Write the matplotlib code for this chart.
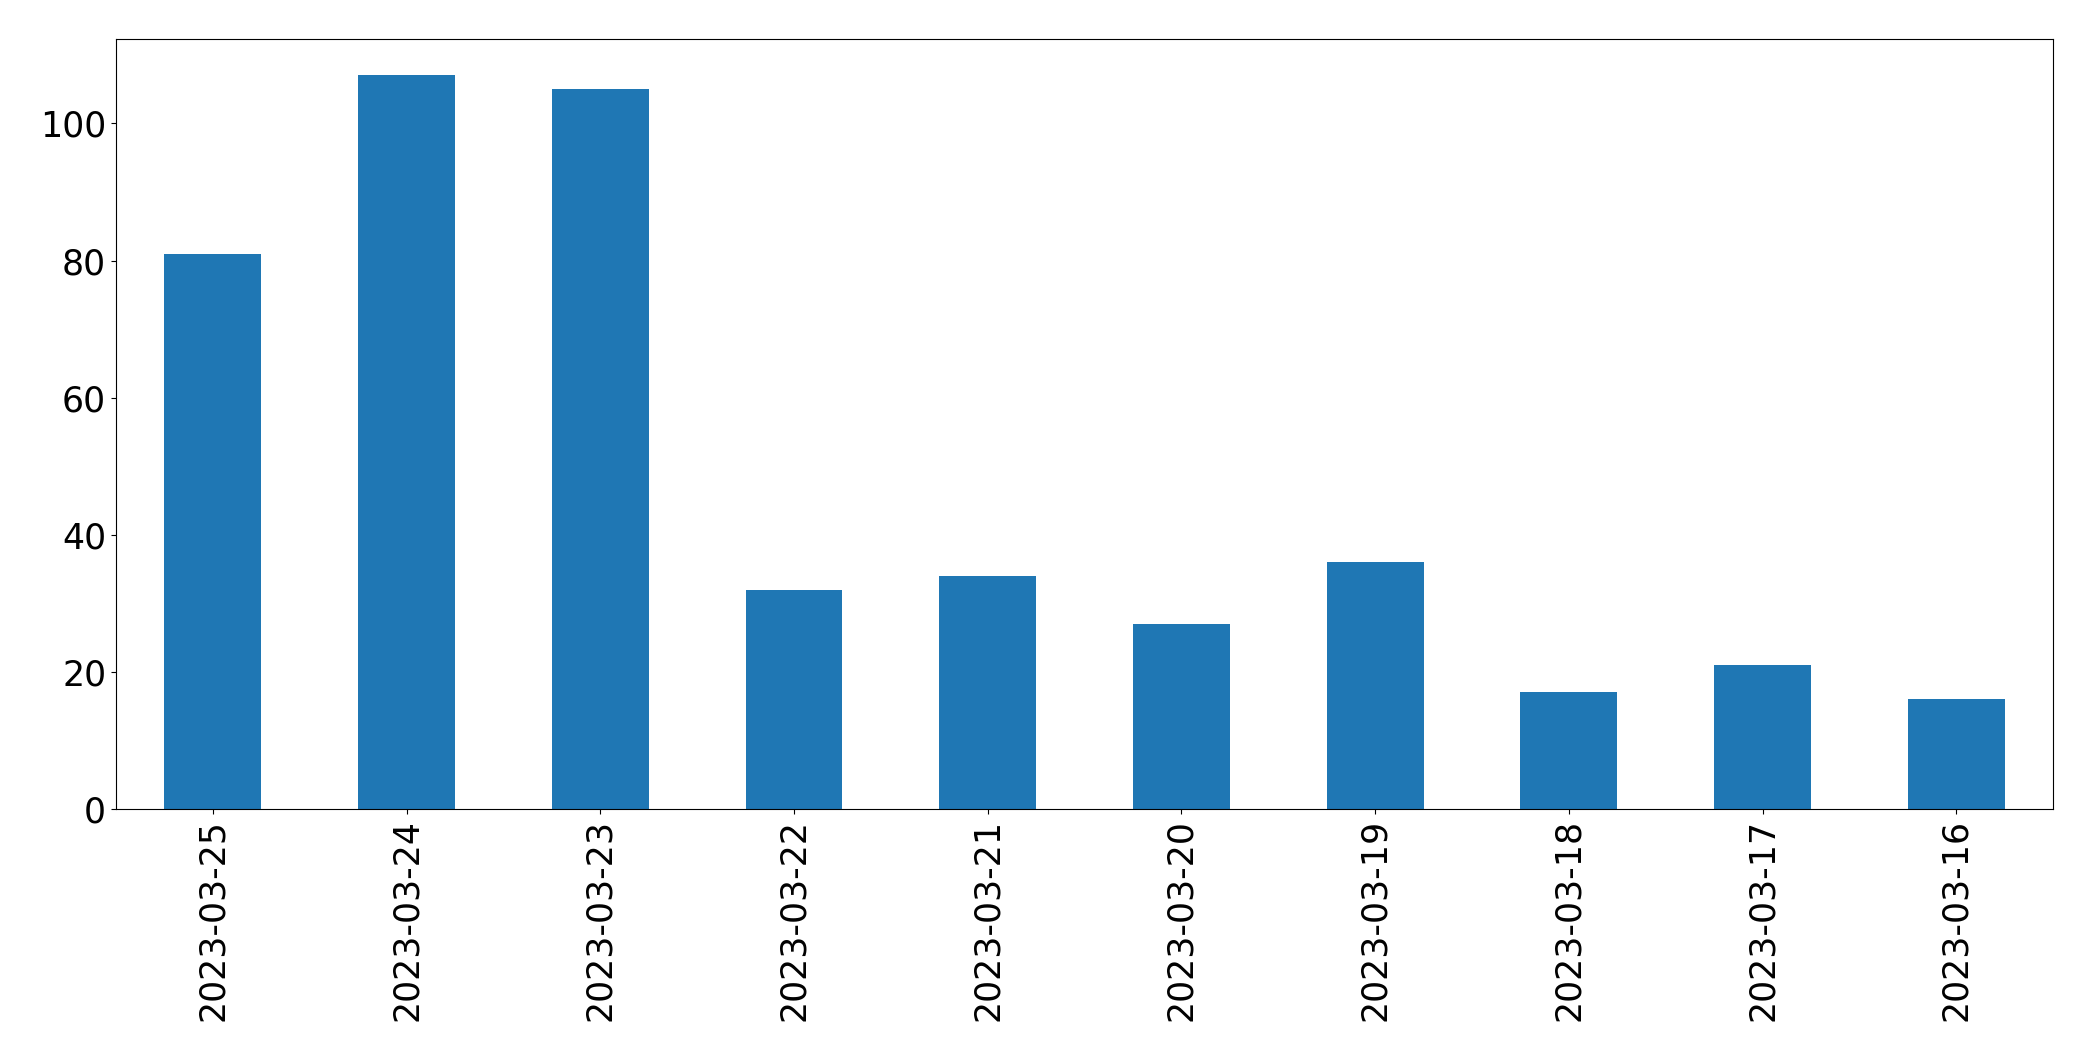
import matplotlib
matplotlib.use("Agg")
import matplotlib.pyplot as plt

dates = ["2023-03-25", "2023-03-24", "2023-03-23", "2023-03-22", "2023-03-21",
         "2023-03-20", "2023-03-19", "2023-03-18", "2023-03-17", "2023-03-16"]
counts = [81, 107, 105, 32, 34, 27, 36, 17, 21, 16]

fig = plt.figure(figsize=(20.93, 10.61), dpi=100)
ax = fig.add_axes([0.0554, 0.2375, 0.981 - 0.0554, 0.9635 - 0.2375])
x = list(range(len(dates)))
ax.bar(x, counts, width=0.5, color="#1f77b4")
ax.set_xlim(-0.5, len(dates) - 0.5)
ax.set_ylim(0, max(counts) * 1.05)
ax.set_xticks(x)
ax.set_xticklabels(dates, rotation=90)
ax.tick_params(axis="both", labelsize=25)
fig.savefig("out.png", dpi=100)
